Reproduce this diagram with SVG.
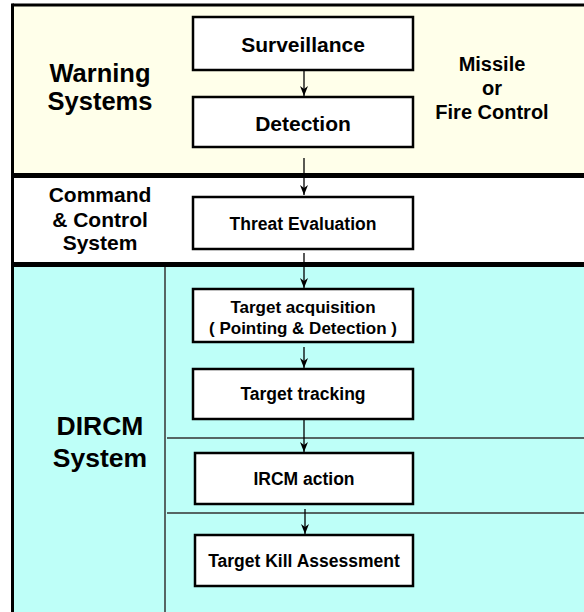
<svg xmlns="http://www.w3.org/2000/svg" width="584" height="612" viewBox="0 0 584 612">
<defs>
<style>
.box{fill:#fff;stroke:#000;stroke-width:2.5}
.t{font-family:"Liberation Sans",Arial,sans-serif;font-weight:bold;fill:#000;text-anchor:middle}
.conn{stroke:#000;stroke-width:1.3;fill:none;marker-end:url(#ah)}
.div{stroke:#333;stroke-width:1.5}
</style>
<marker id="ah" viewBox="0 0 10 8" refX="10" refY="4" markerWidth="10" markerHeight="8" markerUnits="userSpaceOnUse" orient="auto">
<path d="M0,0 L10,4 L0,8 L3,4 Z" fill="#000"/>
</marker>
</defs>
<rect x="0" y="0" width="584" height="612" fill="#fff"/>
<rect x="13" y="5" width="580" height="170" fill="#FFFFEA"/>
<rect x="13" y="175" width="580" height="89" fill="#FFFFFF"/>
<rect x="13" y="264" width="580" height="360" fill="#BEFFF8"/>
<line x1="12.5" y1="5" x2="590" y2="5" stroke="#000" stroke-width="3"/>
<line x1="12.5" y1="3.5" x2="12.5" y2="612" stroke="#000" stroke-width="3"/>
<rect x="11" y="173" width="580" height="5" fill="#000"/>
<rect x="11" y="262" width="580" height="5" fill="#000"/>
<line class="div" x1="165" y1="267" x2="165" y2="612"/>
<line class="div" x1="167" y1="438" x2="590" y2="438"/>
<line class="div" x1="167" y1="513" x2="590" y2="513"/>

<g id="lbl-warning">
<text class="t" x="100" y="82" font-size="25.5">Warning</text>
<text class="t" x="100" y="110" font-size="25.5">Systems</text>
</g>
<g id="lbl-missile">
<text class="t" x="492" y="71" font-size="20">Missile</text>
<text class="t" x="492" y="95" font-size="20">or</text>
<text class="t" x="492" y="119" font-size="20">Fire Control</text>
</g>
<g id="lbl-command">
<text class="t" x="100" y="202" font-size="21">Command</text>
<text class="t" x="100" y="227" font-size="21">&amp; Control</text>
<text class="t" x="100" y="250" font-size="21">System</text>
</g>
<g id="lbl-dircm">
<text class="t" x="100" y="435" font-size="26.5">DIRCM</text>
<text class="t" x="100" y="467" font-size="26.5">System</text>
</g>

<g id="surveillance">
<rect class="box" x="193" y="17" width="220" height="53"/>
<text class="t" x="303" y="52" font-size="21">Surveillance</text>
</g>
<g id="detection">
<rect class="box" x="193" y="97" width="220" height="50"/>
<text class="t" x="303" y="131" font-size="21">Detection</text>
</g>
<g id="threat">
<rect class="box" x="193" y="197" width="220" height="52"/>
<text class="t" x="303" y="230" font-size="17.5">Threat Evaluation</text>
</g>
<g id="acquisition">
<rect class="box" x="193" y="289" width="220" height="53"/>
<text class="t" x="303" y="313" font-size="17">Target acquisition</text>
<text class="t" x="303" y="334" font-size="17">( Pointing &amp; Detection )</text>
</g>
<g id="tracking">
<rect class="box" x="193" y="369" width="220" height="50"/>
<text class="t" x="303" y="400" font-size="17.5">Target tracking</text>
</g>
<g id="ircm">
<rect class="box" x="195" y="453" width="218" height="51"/>
<text class="t" x="304" y="485" font-size="17.5">IRCM action</text>
</g>
<g id="tka">
<rect class="box" x="195" y="535" width="218" height="51"/>
<text class="t" x="304" y="567" font-size="17.5">Target Kill Assessment</text>
</g>

<g id="connectors">
<line class="conn" x1="304" y1="71" x2="304" y2="96"/>
<line class="conn" x1="304" y1="158" x2="304" y2="195"/>
<line class="conn" x1="304" y1="253" x2="304" y2="288"/>
<line class="conn" x1="304" y1="347" x2="304" y2="368"/>
<line class="conn" x1="304" y1="420" x2="304" y2="452"/>
<line class="conn" x1="305" y1="509" x2="305" y2="534"/>
</g>
</svg>
